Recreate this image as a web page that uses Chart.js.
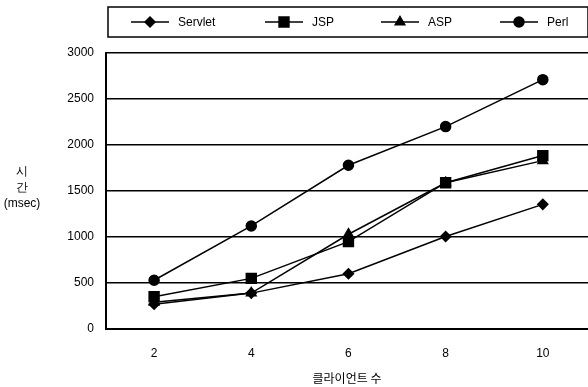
<!DOCTYPE html>
<html>
<head>
<meta charset="utf-8">
<script src="https://cdn.jsdelivr.net/npm/chart.js@4/dist/chart.umd.min.js"></script>
<style>
  html, body { margin: 0; padding: 0; background: #fff; overflow: hidden; }
  #wrap { width: 588px; height: 387px; position: relative; }
</style>
</head>
<body>
<div id="wrap"><canvas id="c"></canvas></div>
<script>
// Response time by number of clients
const clients = [2, 4, 6, 8, 10];
const servlet = [270, 390, 600, 1005, 1355];
const jsp = [350, 550, 950, 1590, 1885];
const asp = [290, 390, 1030, 1590, 1830];
const perl = [530, 1120, 1780, 2200, 2710];
const yTicks = [0, 500, 1000, 1500, 2000, 2500, 3000];

const FONT = '"Liberation Sans", Arial, sans-serif';

const series = [
  { label: 'Servlet', data: servlet, pointStyle: 'rectRot', radius: 5 },
  { label: 'JSP', data: jsp, pointStyle: 'rect', radius: 7 },
  { label: 'ASP', data: asp, pointStyle: 'triangle', radius: 5.5 },
  { label: 'Perl', data: perl, pointStyle: 'circle', radius: 5 }
];

// Boxed legend row, the stacked y-axis caption and the x-axis caption
const decorations = {
  id: 'decorations',
  afterDraw(chart) {
    const ctx = chart.ctx;
    ctx.save();
    // legend frame
    const bx = 108, by = 7, bw = 480, bh = 30;
    ctx.strokeStyle = '#000';
    ctx.lineWidth = 1.5;
    ctx.strokeRect(bx, by, bw, bh);
    const starts = [131, 265, 381, 500];
    const cy = by + bh / 2;
    ctx.font = '12px ' + FONT;
    ctx.textBaseline = 'middle';
    ctx.fillStyle = '#000';
    chart.data.datasets.forEach((ds, i) => {
      const x0 = starts[i];
      ctx.beginPath();
      ctx.moveTo(x0, cy);
      ctx.lineTo(x0 + 38, cy);
      ctx.lineWidth = 1.5;
      ctx.stroke();
      Chart.helpers.drawPoint(ctx, {
        pointStyle: ds.pointStyle,
        radius: ds.pointRadius,
        borderWidth: 1,
        rotation: 0
      }, x0 + 19, cy);
      ctx.fill();
      ctx.fillText(ds.label, x0 + 47, cy + 1);
    });
    // y-axis caption
    ctx.textAlign = 'center';
    ctx.fillText('시', 22, 172);
    ctx.fillText('간', 22, 188);
    ctx.fillText('(msec)', 22, 204);
    // x-axis caption
    ctx.font = '12px "Noto Sans CJK KR", sans-serif';
    ctx.fillText('클라이언트 수', 347, 378);
    ctx.restore();
  }
};

new Chart(document.getElementById('c'), {
  type: 'line',
  data: {
    datasets: series.map(s => ({
      label: s.label,
      data: s.data.map((v, i) => ({ x: clients[i], y: v })),
      borderColor: '#000',
      backgroundColor: '#000',
      borderWidth: 1.5,
      pointStyle: s.pointStyle,
      pointRadius: s.radius,
      pointHoverRadius: s.radius,
      pointBackgroundColor: '#000',
      pointBorderColor: '#000',
      tension: 0
    }))
  },
  options: {
    responsive: true,
    maintainAspectRatio: false,
    animation: false,
    layout: { autoPadding: false, padding: { top: 53, left: 0, right: 0, bottom: 0 } },
    plugins: { legend: { display: false }, tooltip: { enabled: false } },
    scales: {
      x: {
        type: 'linear',
        min: 1.01,
        max: 10.93,
        afterBuildTicks(scale) { scale.ticks = clients.map(v => ({ value: v })); },
        afterFit(scale) {
          scale.height = 58;
          scale.paddingLeft = 0;
          scale.paddingRight = 0;
        },
        grid: { display: false, drawTicks: false },
        border: { display: true, color: '#000', width: 2 },
        ticks: { color: '#000', font: { family: FONT, size: 12 }, padding: 17, maxRotation: 0 }
      },
      y: {
        min: 0,
        max: 3000,
        afterFit(scale) { scale.width = 106; },
        afterBuildTicks(scale) { scale.ticks = yTicks.map(v => ({ value: v })); },
        grid: { color: '#000', lineWidth: 1.5, drawTicks: false },
        border: { display: true, color: '#000', width: 2 },
        ticks: {
          color: '#000',
          font: { family: FONT, size: 12 },
          padding: 12,
          callback: v => String(v)
        }
      }
    }
  },
  plugins: [decorations]
});
</script>
</body>
</html>
